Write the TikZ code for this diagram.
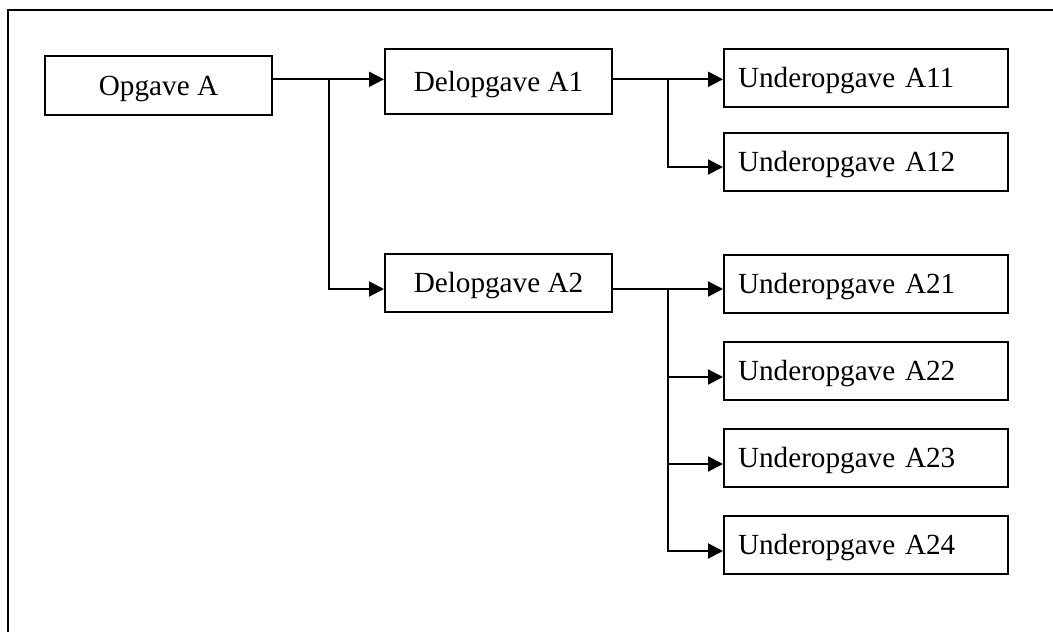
\documentclass[tikz,border=0pt]{standalone}
\usepackage{fontspec}
\setmainfont{Liberation Serif}
\usetikzlibrary{arrows.meta}
\begin{document}
\begin{tikzpicture}[x=1pt,y=-1pt,
  every node/.style={font=\fontsize{29.2}{35}\selectfont},
  box/.style={draw, line width=2pt, inner ysep=0pt, text height=19.3pt, text depth=0pt},
  midbox/.style={box, minimum width=227pt, align=center},
  subbox/.style={box, minimum width=284pt, minimum height=58pt, inner xsep=14pt, text width=256pt, align=left},
  conn/.style={line width=2pt},
  arr/.style={conn, -{Triangle[length=15pt,width=15pt]}}]
\useasboundingbox (0,0) rectangle (1053,632);
\draw[line width=2.5pt] (8,632) -- (8,10) -- (1053,10);

\node[midbox, minimum height=59pt] (OA) at (158.5,85.5) {Opgave A};
\node[midbox, minimum height=65pt] (D1) at (498.5,81.5) {Delopgave A1};
\node[midbox, minimum height=58pt] (D2) at (498.5,283) {Delopgave A2};

\node[subbox] (A11) at (866,78) {Underopgave A11};
\node[subbox] (A12) at (866,161.5) {Underopgave A12};
\node[subbox] (A21) at (866,283.5) {Underopgave A21};
\node[subbox] (A22) at (866,371) {Underopgave A22};
\node[subbox] (A23) at (866,458) {Underopgave A23};
\node[subbox] (A24) at (866,545) {Underopgave A24};

\coordinate (jA) at (329,79.3);
\coordinate (jB) at (668,79.3);
\coordinate (jC) at (668,289);

\draw[conn] (OA.east |- jA) -- (jA);
\draw[arr] (jA) -- (D1.west |- jA);
\draw[arr] (jA) |- (D2.west |- jC);

\draw[conn] (D1.east |- jB) -- (jB);
\draw[arr] (jB) -- (A11.west |- jB);
\draw[arr] (jB) |- ([yshift=-5.5pt]A12.west);

\draw[conn] (D2.east |- jC) -- (jC);
\draw[arr] (jC) -- (A21.west |- jC);
\draw[arr] (jC) |- ([yshift=-6pt]A22.west);
\draw[arr] (jC) |- ([yshift=-6pt]A23.west);
\draw[arr] (jC) |- ([yshift=-6pt]A24.west);
\end{tikzpicture}
\end{document}
